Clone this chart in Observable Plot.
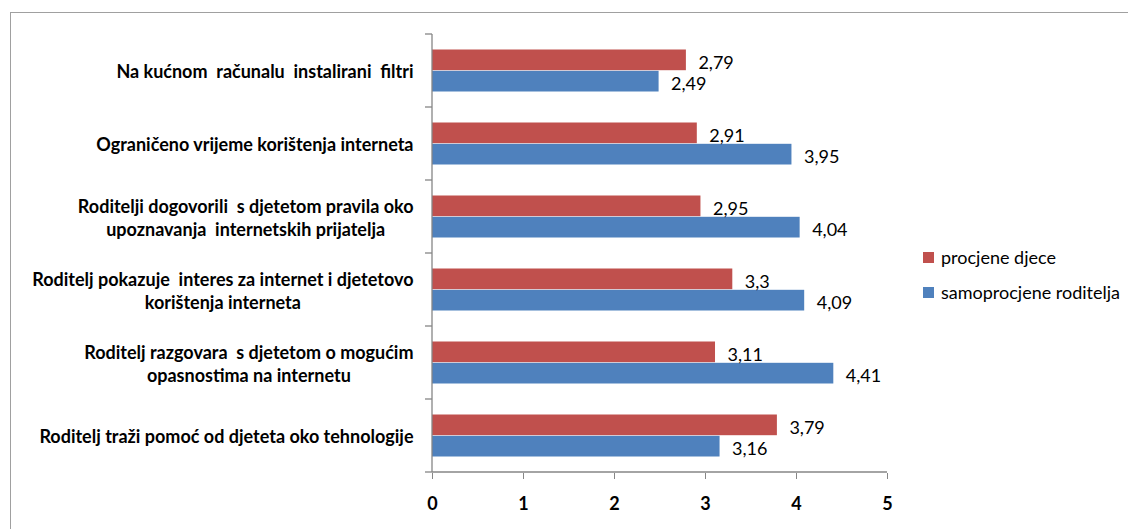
<!DOCTYPE html>
<html>
<head>
<meta charset="utf-8">
<script src="https://cdn.jsdelivr.net/npm/d3@7"></script>
<script src="https://cdn.jsdelivr.net/npm/@observablehq/plot@0.6"></script>
<style>
  html, body { margin: 0; padding: 0; background: #fff; }
  #wrap { position: relative; width: 1128px; height: 529px; overflow: hidden; font-family: Lato, "Open Sans", sans-serif; }
  #border { position: absolute; left: 10px; top: 12px; width: 1300px; height: 700px; border-left: 1px solid #a0a0a0; border-top: 1px solid #a0a0a0; }
  #chart { position: absolute; left: 0; top: 0; }
  #legend { position: absolute; left: 923px; top: 245px; font-size: 18px; color: #000; }
  .item { display: flex; align-items: center; height: 24px; margin-bottom: 11px; }
  .sw { width: 11px; height: 11px; margin-right: 7px; }
</style>
</head>
<body>
<div id="wrap">
  <div id="border"></div>
  <div id="chart"></div>
  <div id="legend"></div>
</div>
<script>
const categories = [
  "Na kućnom  računalu  instalirani  filtri",
  "Ograničeno vrijeme korištenja interneta",
  "Roditelji dogovorili  s djetetom pravila oko\nupoznavanja  internetskih prijatelja",
  "Roditelj pokazuje  interes za internet i djetetovo\nkorištenja interneta",
  "Roditelj razgovara  s djetetom o mogućim\nopasnostima na internetu",
  "Roditelj traži pomoć od djeteta oko tehnologije"
];
const procjeneDjece = [2.79, 2.91, 2.95, 3.3, 3.11, 3.79];
const samoprocjeneRoditelja = [2.49, 3.95, 4.04, 4.09, 4.41, 3.16];
const seriesNames = ["procjene djece", "samoprocjene roditelja"];
const seriesColors = ["#C0504D", "#4F81BD"];
const xTicks = [0, 1, 2, 3, 4, 5];

const fmt = v => String(v).replace(".", ",");
const rowsA = categories.map((c, i) => ({cat: c, value: procjeneDjece[i], series: seriesNames[0]}));
const rowsB = categories.map((c, i) => ({cat: c, value: samoprocjeneRoditelja[i], series: seriesNames[1]}));

const axisColor = "#868686";

const axisLines = (index, scales, values, dims) => {
  const {x, y} = scales;
  const g = d3.create("svg:g").attr("stroke", axisColor).attr("stroke-width", 1.3).attr("fill", "none");
  const bw = typeof y.bandwidth === "function" ? y.bandwidth() : y.bandwidth;
  const x0 = x(0);
  const top = y(categories[0]);
  const bottom = top + bw * categories.length;
  g.append("line").attr("x1", x0).attr("x2", x0).attr("y1", top).attr("y2", bottom);
  g.append("line").attr("x1", x0).attr("x2", x(xTicks[xTicks.length - 1])).attr("y1", bottom).attr("y2", bottom);
  for (let i = 0; i <= categories.length; i++) {
    const yy = top + i * bw;
    g.append("line").attr("x1", x0 - 7).attr("x2", x0).attr("y1", yy).attr("y2", yy);
  }
  return g.node();
};

const plot = Plot.plot({
  width: 1128,
  height: 529,
  marginLeft: 432,
  marginRight: 241,
  marginTop: 32,
  marginBottom: 56,
  style: {background: "none", fontFamily: "Lato, 'Open Sans', sans-serif", color: "#000", overflow: "visible"},
  x: {domain: [0, 5]},
  y: {domain: categories, padding: 0},
  marks: [
    Plot.barX(rowsA, {x: "value", y: "cat", fill: seriesColors[0], insetTop: 15.5, insetBottom: 36.8}),
    Plot.barX(rowsB, {x: "value", y: "cat", fill: seriesColors[1], insetTop: 36.8, insetBottom: 15.5}),
    Plot.text(rowsA, {x: "value", y: "cat", text: d => fmt(d.value), dx: 12, dy: -7.5, textAnchor: "start", fontSize: 18, fill: "#000"}),
    Plot.text(rowsB, {x: "value", y: "cat", text: d => fmt(d.value), dx: 12, dy: 13.6, textAnchor: "start", fontSize: 18, fill: "#000"}),
    Plot.axisX(xTicks, {tickSize: 6, tickPadding: 18, stroke: axisColor, fontSize: 18, fontWeight: "bold", tickFormat: d => String(d), label: null}),
    Plot.axisY({tickSize: 0, tickPadding: 19, fontSize: 18, fontWeight: "bold", lineHeight: 1.28, label: null}),
    axisLines
  ]
});
document.getElementById("chart").append(plot);

// center multi-line category labels within their right-aligned block
plot.querySelectorAll('g[aria-label="y-axis tick label"] text').forEach(t => {
  const spans = t.querySelectorAll("tspan");
  if (spans.length > 1) {
    const w = t.getBBox().width;
    t.setAttribute("text-anchor", "middle");
    t.style.textAnchor = "middle";
    spans.forEach(s => s.setAttribute("x", -w / 2));
  }
});

const legend = document.getElementById("legend");
seriesNames.forEach((name, i) => {
  const item = document.createElement("div");
  item.className = "item";
  const sw = document.createElement("div");
  sw.className = "sw";
  sw.style.background = seriesColors[i];
  const label = document.createElement("span");
  label.textContent = name;
  item.append(sw, label);
  legend.append(item);
});
</script>
</body>
</html>
